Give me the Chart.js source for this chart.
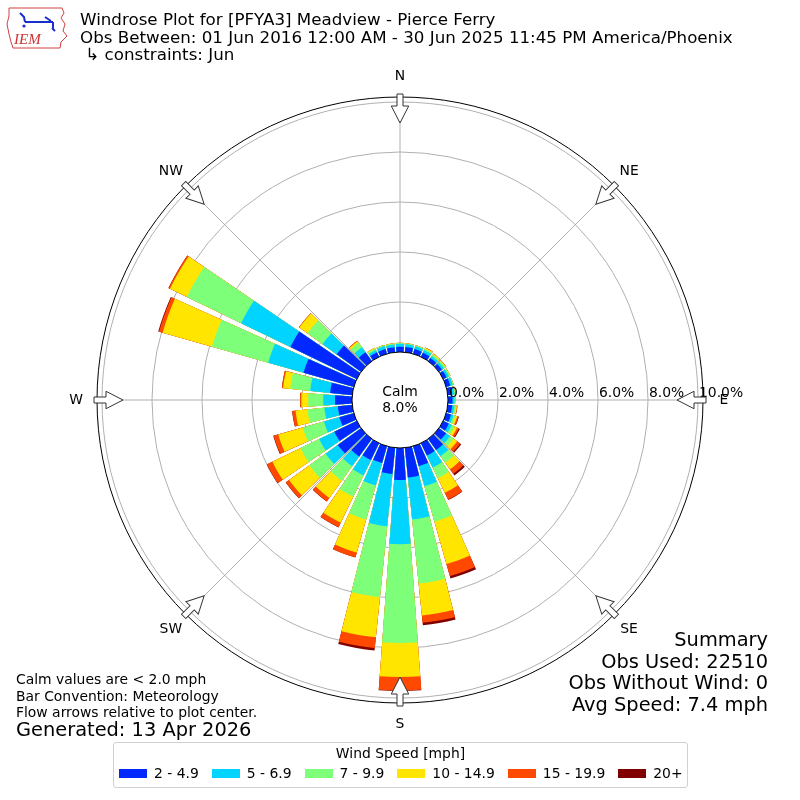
<!DOCTYPE html>
<html lang="en">
<head>
<meta charset="UTF-8">
<title>Windrose PFYA3</title>
<script src="https://cdn.jsdelivr.net/npm/chart.js"></script>
<style>
  body { margin: 0; background: #fff; font-family: "DejaVu Sans", sans-serif; color: #000; }
  #wrap { position: relative; width: 800px; height: 800px; overflow: hidden; }
  #rose { position: absolute; left: 0; top: 0; }
  .txt { position: absolute; white-space: pre; }
  #title { left: 80px; top: 11px; font-size: 16.7px; line-height: 17.5px; }
  #summary { right: 32px; top: 629px; font-size: 19.4px; line-height: 21.7px; text-align: right; }
  #notes { left: 16px; top: 671px; font-size: 13.9px; line-height: 16.5px; }
  #generated { left: 16px; top: 719px; font-size: 19.4px; line-height: 22px; }
  #legend { position: absolute; left: 113px; top: 742px; width: 573px; height: 44px;
            border: 1px solid #d0d0d0; border-radius: 3px; font-size: 13.9px; white-space: nowrap; }
  #legend .ttl { text-align: center; margin-top: 2px; line-height: 17px; }
  #legend .row { display: flex; align-items: center; margin: 3px 0 0 5px; line-height: 17px; }
  #legend .box { flex: 0 0 28px; height: 9px; margin-right: 7px; }
  #legend .lab { flex: 0 0 auto; margin-right: 13px; white-space: nowrap; }
  #logo { position: absolute; left: 5px; top: 4px; }
</style>
</head>
<body>
<div id="wrap">
  <canvas id="rose" width="800" height="800"></canvas>
  <svg id="logo" width="64" height="48" viewBox="0 0 64 48">
    <path d="M4 4 L57 4 L59 9 L56 14 L60 20 L58 27 L62 32 L56 38 L55 44 L8 44 L6 38 L4 30 L2 20 L4 12 Z"
          fill="none" stroke="#d04040" stroke-width="1"/>
    <path d="M15 9 L19 13 L20 18 M20 18 L48 18 M40 13 L46 17 M48 18 L48 24 M47 24 L50 27"
          fill="none" stroke="#1a2ecc" stroke-width="2"/>
    <circle cx="19" cy="22" r="1.6" fill="#1a2ecc"/>
    <text x="9" y="40" font-family="Liberation Serif, serif" font-style="italic" font-size="15" fill="#d03030">IEM</text>
  </svg>
  <div id="title" class="txt">Windrose Plot for [PFYA3] Meadview - Pierce Ferry
Obs Between: 01 Jun 2016 12:00 AM - 30 Jun 2025 11:45 PM America/Phoenix
 ↳ constraints: Jun</div>
  <div id="summary" class="txt">Summary
Obs Used: 22510
Obs Without Wind: 0
Avg Speed: 7.4 mph</div>
  <div id="notes" class="txt">Calm values are &lt; 2.0 mph
Bar Convention: Meteorology
Flow arrows relative to plot center.</div>
  <div id="generated" class="txt">Generated: 13 Apr 2026</div>
  <div id="legend">
    <div class="ttl">Wind Speed [mph]</div>
    <div class="row" id="legendRow"></div>
  </div>
</div>
<script>
// direction bins (degrees, meteorological), percent of all obs per speed bin
const dirDeg = [0, 10, 20, 30, 40, 50, 60, 70, 80, 90, 100, 110,
                120, 130, 140, 150, 160, 170, 180, 190, 200, 210, 220, 230,
                240, 250, 260, 270, 280, 290, 300, 310, 320, 330, 340, 350];
const speedLabels = ['2 - 4.9', '5 - 6.9', '7 - 9.9', '10 - 14.9', '15 - 19.9', '20+'];
const speedColors = ['#0028ff', '#00d4ff', '#7dff7a', '#ffe500', '#ff4800', '#800000'];

const spd2to5 = [0.21, 0.21, 0.20, 0.18, 0.15, 0.15, 0.15, 0.17, 0.18, 0.18, 0.18, 0.20,
                 0.25, 0.35, 0.55, 0.55, 0.83, 1.20, 1.28, 1.06, 0.70, 0.75, 0.87, 1.15,
                 1.00, 0.60, 0.58, 0.68, 0.89, 2.09, 2.95, 1.20, 0.44, 0.20, 0.20, 0.20];
const spd5to7 = [0.12, 0.11, 0.11, 0.12, 0.10, 0.10, 0.10, 0.10, 0.09, 0.08, 0.09, 0.10,
                 0.13, 0.20, 0.30, 0.53, 0.84, 1.68, 2.57, 2.10, 0.93, 0.68, 0.48, 0.60,
                 0.67, 0.64, 0.54, 0.47, 0.80, 1.47, 2.19, 0.70, 0.24, 0.10, 0.12, 0.11];
const spd7to10 = [0.03, 0.03, 0.04, 0.06, 0.07, 0.07, 0.05, 0.03, 0.03, 0.02, 0.05, 0.08,
                  0.12, 0.17, 0.33, 0.47, 1.47, 2.58, 3.95, 2.84, 1.42, 0.95, 0.71, 0.80,
                  0.83, 0.88, 0.68, 0.60, 0.80, 2.34, 2.41, 0.74, 0.22, 0.07, 0.04, 0.04];
const spd10to15 = [0.01, 0.01, 0.01, 0.04, 0.04, 0.03, 0.02, 0.01, 0.01, 0.01, 0.05, 0.08,
                   0.12, 0.18, 0.32, 0.65, 1.76, 1.28, 1.36, 1.62, 1.37, 1.15, 0.85, 1.00,
                   1.25, 1.02, 0.48, 0.28, 0.29, 2.05, 0.75, 0.40, 0.08, 0.03, 0.01, 0.01];
const spd15to20 = [0, 0, 0, 0.01, 0.01, 0.01, 0, 0, 0, 0, 0.02, 0.06,
                   0.08, 0.15, 0.22, 0.30, 0.50, 0.30, 0.54, 0.43, 0.20, 0.20, 0.17, 0.16,
                   0.24, 0.19, 0.13, 0.05, 0.05, 0.15, 0.06, 0.02, 0.02, 0, 0, 0];
const spd20plus = [0, 0, 0, 0, 0, 0, 0, 0, 0, 0, 0, 0.01,
                   0.04, 0.05, 0.08, 0.02, 0.10, 0.10, 0.02, 0.10, 0.01, 0.01, 0.01, 0.01,
                   0.01, 0.02, 0.01, 0, 0, 0.03, 0.01, 0, 0, 0, 0, 0];

const calmPct = 8.0;
const tickValues = [0, 2, 4, 6, 8, 10];
const compassLabels = ['N', 'NE', 'E', 'SE', 'S', 'SW', 'W', 'NW'];

// radial axis: negative minimum leaves the calm hole in the middle
const rMin = -1.92;
const rMax = 10.2;
const barDeg = 8.4;
const gapDeg = 10 - barDeg;

// stack: each dataset is the running total, smaller totals drawn on top
const bins = [spd2to5, spd5to7, spd7to10, spd10to15, spd15to20, spd20plus];
const cumulative = [];
bins.forEach((b, k) => {
  cumulative.push(b.map((v, i) => v + (k ? cumulative[k - 1][i] : 0)));
});

const rosePlugin = {
  id: 'rose',
  beforeDatasetsDraw(chart) {
    const s = chart.scales.r;
    const ctx = chart.ctx;
    const R = s.getDistanceFromCenterForValue(rMax);
    ctx.save();
    ctx.strokeStyle = '#b0b0b0';
    ctx.lineWidth = 1;
    for (let k = 0; k < 8; k++) {
      const a = (k * 45 - 90) * Math.PI / 180;
      ctx.beginPath();
      ctx.moveTo(s.xCenter, s.yCenter);
      ctx.lineTo(s.xCenter + R * Math.cos(a), s.yCenter + R * Math.sin(a));
      ctx.stroke();
    }
    ctx.restore();
  },
  afterDatasetsDraw(chart) {
    const s = chart.scales.r;
    const ctx = chart.ctx;
    const cx = s.xCenter, cy = s.yCenter;
    const r0 = s.getDistanceFromCenterForValue(0);
    const R = s.getDistanceFromCenterForValue(rMax);
    ctx.save();

    // calm circle
    ctx.beginPath();
    ctx.arc(cx, cy, r0, 0, Math.PI * 2);
    ctx.fillStyle = '#fff';
    ctx.fill();
    ctx.strokeStyle = '#000';
    ctx.lineWidth = 1;
    ctx.stroke();

    // outer frame
    ctx.beginPath();
    ctx.arc(cx, cy, R, 0, Math.PI * 2);
    ctx.stroke();

    ctx.fillStyle = '#000';
    ctx.font = '13.9px "DejaVu Sans"';
    ctx.textAlign = 'center';
    ctx.textBaseline = 'middle';
    ctx.fillText('Calm', cx, cy - 8);
    ctx.fillText(calmPct.toFixed(1) + '%', cx, cy + 8);

    // radial tick labels
    ctx.textAlign = 'left';
    ctx.textBaseline = 'alphabetic';
    tickValues.forEach(v => {
      ctx.fillText(v.toFixed(1) + '%', cx + s.getDistanceFromCenterForValue(v) + 1, cy - 3);
    });

    // compass labels + inward flow arrows
    compassLabels.forEach((lab, k) => {
      const deg = k * 45;
      const a = (deg - 90) * Math.PI / 180;
      ctx.textAlign = 'center';
      ctx.textBaseline = 'middle';
      ctx.fillStyle = '#000';
      ctx.fillText(lab, cx + (R + 21) * Math.cos(a), cy + (R + 21) * Math.sin(a));

      ctx.save();
      ctx.translate(cx, cy);
      ctx.rotate(deg * Math.PI / 180);
      ctx.beginPath();
      ctx.moveTo(-3, -R - 3);
      ctx.lineTo(3, -R - 3);
      ctx.lineTo(3, -R + 9);
      ctx.lineTo(8.7, -R + 9);
      ctx.lineTo(0, -R + 26);
      ctx.lineTo(-8.7, -R + 9);
      ctx.lineTo(-3, -R + 9);
      ctx.closePath();
      ctx.fillStyle = '#fff';
      ctx.fill();
      ctx.strokeStyle = '#333';
      ctx.lineWidth = 1;
      ctx.stroke();
      ctx.restore();
    });
    ctx.restore();
  }
};

new Chart(document.getElementById('rose'), {
  type: 'polarArea',
  data: {
    labels: dirDeg.flatMap(d => [d + '°', '']),
    datasets: cumulative.map((vals, k) => ({
      label: speedLabels[k],
      data: vals.flatMap(v => [v, rMin]),
      backgroundColor: speedColors[k],
      borderWidth: 0,
      angle: c => (c.dataIndex % 2 ? gapDeg : barDeg)
    }))
  },
  options: {
    responsive: false,
    animation: false,
    layout: { padding: 97 },
    plugins: {
      legend: { display: false },
      tooltip: { enabled: false }
    },
    scales: {
      r: {
        min: rMin,
        max: rMax,
        beginAtZero: false,
        startAngle: -barDeg / 2,
        angleLines: { display: false },
        pointLabels: { display: false },
        ticks: { display: false },
        afterBuildTicks: scale => {
          scale.ticks = tickValues.map(v => ({ value: v }));
        },
        grid: { circular: true, color: '#b0b0b0', lineWidth: 1 }
      }
    }
  },
  plugins: [rosePlugin]
});

// legend row from the speed bins
const row = document.getElementById('legendRow');
speedLabels.forEach((lab, k) => {
  const box = document.createElement('span');
  box.className = 'box';
  box.style.background = speedColors[k];
  const t = document.createElement('span');
  t.className = 'lab';
  t.textContent = lab;
  row.appendChild(box);
  row.appendChild(t);
});
</script>
</body>
</html>
